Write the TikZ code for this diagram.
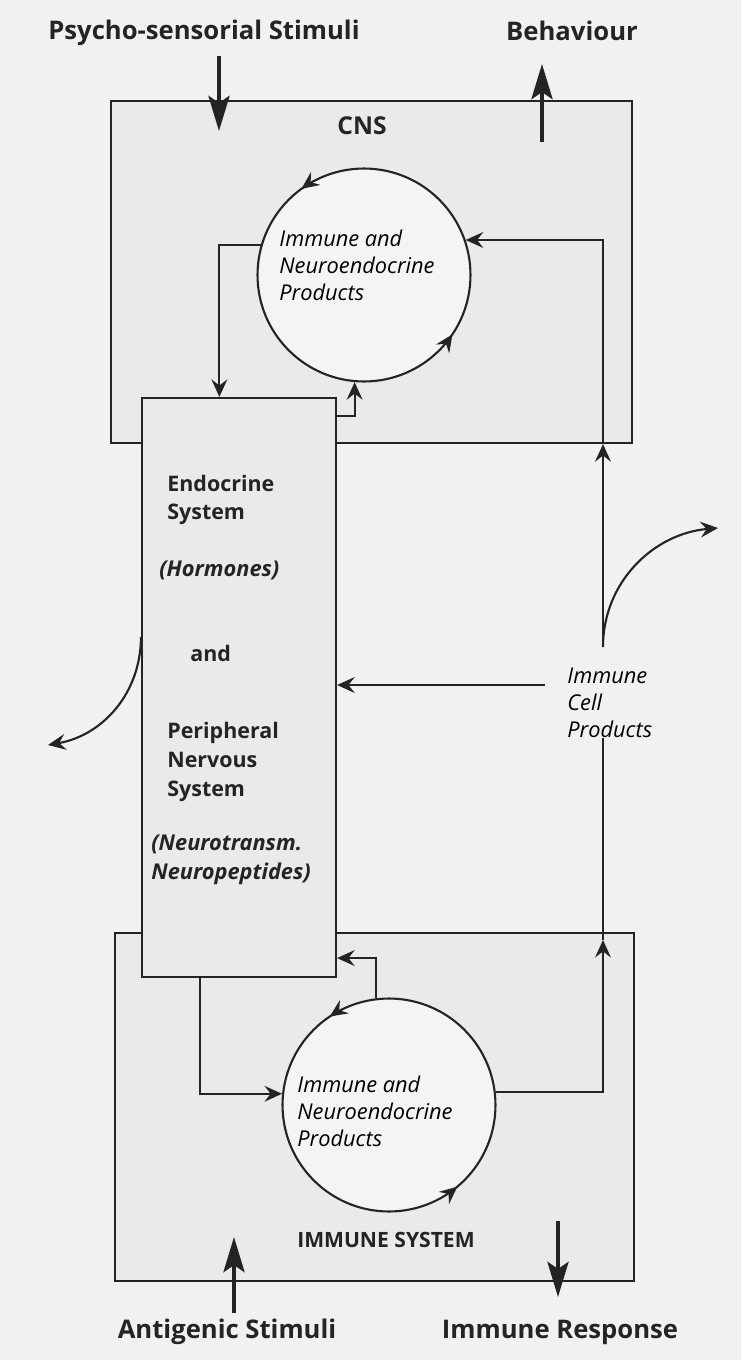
\documentclass[tikz,border=0pt]{standalone}
\usepackage{fontspec}
\setmainfont{Open Sans}
\usetikzlibrary{arrows.meta,calc,fit,decorations.markings}

\definecolor{ink}{HTML}{242424}
\definecolor{paper}{HTML}{F1F1F1}
\definecolor{boxfill}{HTML}{EAEAEA}
\definecolor{loopfill}{HTML}{F4F4F4}

\tikzset{
  tip/.style={-{Stealth[length=10pt,width=9pt,inset=3.5pt]}},
  flow/.style={draw=ink, line width=1.2pt, tip},
  bigflow/.style={draw=ink, line width=2.2pt, -{Stealth[length=20pt,width=12pt,inset=4pt]}},
  sysbox/.style={draw=ink, line width=1.2pt, fill=boxfill, inner sep=0pt},
  loop/.style 2 args={circle, draw=ink, line width=1.2pt, fill=loopfill,
    minimum size=4.26cm, inner sep=0pt,
    postaction={decorate, decoration={markings,
      mark=at position #1 with {\arrow{Stealth[length=10pt,width=9pt,inset=3.5pt]}},
      mark=at position #2 with {\arrow{Stealth[length=10pt,width=9pt,inset=3.5pt]}}}}},
  outer/.style={font=\bfseries\fontsize{14.6}{18}\selectfont, text=ink, inner sep=0pt},
  caps/.style={font=\bfseries\fontsize{12}{15}\selectfont, text=ink, inner sep=0pt},
  syslabel/.style={font=\bfseries\fontsize{12.2}{16.4}\selectfont, text=ink, align=left, inner sep=0pt},
  sysit/.style={font=\bfseries\itshape\fontsize{12.4}{16.4}\selectfont, text=ink, align=left, inner sep=0pt},
  prod/.style={font=\itshape\fontsize{12.4}{15.3}\selectfont, text=black, align=left, inner sep=0pt}
}

\begin{document}
\begin{tikzpicture}[x=0.02cm, y=0.02cm]
  \fill[paper] (0,0) rectangle (741,-1360);

  % the three systems
  \node[sysbox, fit={(111,-101) (632,-443)}] (cns) {};
  \node[sysbox, fit={(115,-933) (634,-1281)}] (ims) {};
  \node[sysbox, fit={(142,-398) (336,-977)}] (endo) {};

  \node[caps, font=\bfseries\fontsize{14}{18}\selectfont] (cnsname) at (362,-126) {CNS};
  \node[caps] (imsname) at (386,-1240) {IMMUNE SYSTEM};

  % product pools
  \node[loop={0.35}{0.906}] (ctop) at (364,-275) {};
  \node[loop={0.344}{0.861}] (cbot) at (389,-1105) {};
  \node[prod, anchor=west] (ctoptext) at (279,-265) {Immune and\\Neuroendocrine\\Products};
  \node[prod, anchor=west] (cbottext) at (297,-1111) {Immune and\\Neuroendocrine\\Products};

  \node[syslabel, anchor=west] (endoname) at (167,-500) {Endocrine\\System};
  \node[sysit, anchor=west] (hormones) at (159,-570) {(Hormones)};
  \node[syslabel, anchor=west] (andword) at (190,-653) {and};
  \node[syslabel, anchor=west] (pnsname) at (167,-762) {Peripheral\\Nervous\\System};
  \node[sysit, anchor=west] (transm) at (151,-860) {(Neurotransm.\\Neuropeptides)};

  \node[prod, anchor=west] (icp) at (567,-703) {Immune\\Cell\\Products};

  \node[outer] (psy) at (204,-33) {Psycho-sensorial Stimuli};
  \node[outer] (beh) at (572,-31) {Behaviour};
  \node[outer] (ant) at (227,-1332) {Antigenic Stimuli};
  \node[outer] (resp) at (560,-1332) {Immune Response};

  \coordinate (trunk) at (603,-700);
  \coordinate (fork) at (603,-647);
  \coordinate (exitR) at (718,-528);
  \coordinate (exitL) at (48,-745);
  \coordinate (icpin) at ($(icp.west)+(-22,18)$);
  \coordinate (psytip) at (219,-131);
  \coordinate (behtip) at (542,-64);
  \coordinate (anttip) at (234,-1237);
  \coordinate (resptip) at (558,-1297);

  % CNS side
  \draw[flow] (ctop.164) -| ($(endo.north west)!0.4!(endo.north east)$);
  \draw[flow] ($(endo.north east)+(0,-19)$) -| (ctop.265);
  \draw[flow] (fork) -- (fork |- cns.south);
  \draw[flow] (fork |- cns.south) |- (ctop.19);
  \draw[flow] (fork) to[out=90,in=185] (exitR);

  % immune cell products
  \draw[flow] (icpin) -- (icpin -| endo.east);
  \draw[flow] ($(endo.north west)+(0,-240)$) to[out=-90,in=10] (exitL);

  % immune side
  \draw[flow] ($(endo.south west)!0.3!(endo.south east)$) |- (cbot.174);
  \draw[flow] (cbot.97) |- ($(endo.south east)+(0,20)$);
  \draw[flow] (cbot.7) -| ($(trunk |- ims.north)+(0,-8)$);
  \draw[draw=ink, line width=1.2pt] ($(trunk |- ims.north)+(0,-8)$) -- (trunk |- icp.south);

  % stimuli and responses
  \draw[bigflow] ($(psytip |- psy.south)+(0,-10)$) -- (psytip);
  \draw[bigflow] ($(behtip |- cns.north)+(0,-42)$) -- (behtip);
  \draw[bigflow] ($(anttip |- ant.north)+(0,6)$) -- (anttip);
  \draw[bigflow] ($(resptip |- ims.south)+(0,61)$) -- (resptip);
\end{tikzpicture}
\end{document}
